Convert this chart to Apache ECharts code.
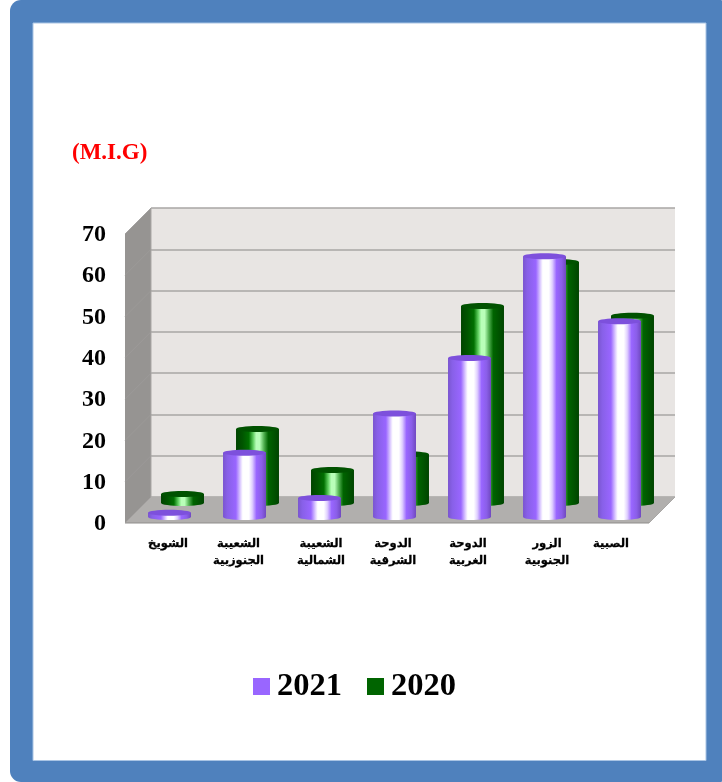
<!DOCTYPE html>
<html>
<head>
<meta charset="utf-8">
<style>html,body{margin:0;padding:0;background:#fff}#c{width:722px;height:782px}</style>
<script src="https://cdn.jsdelivr.net/npm/echarts@6/dist/echarts.min.js"></script>
</head>
<body>
<div id="c"></div>
<script>
const categories = ['الشويخ','الشعيبة\nالجنوزبية','الشعيبة\nالشمالية','الدوحة\nالشرقية','الدوحة\nالغربية','الزور\nالجنوبية','الصبية'];
const values2021 = [1, 15.5, 4.6, 25, 38.4, 63, 47.3];
const values2020 = [2.2, 17.9, 8, 11.8, 47.6, 58.2, 45.2];
const wallTicks = [0,10,20,30,40,50,60,70];
const serif = '"Liberation Serif","Times New Roman",serif';
const labelNudge = [-1.5,-6,1.5,-1.5,-1.5,2.5,-8.5];

const DEPTH = 26;
function grad(stops){
  return {type:'linear',x:0,y:0,x2:1,y2:0,colorStops:stops.map(s=>({offset:s[0],color:s[1]}))};
}
const purpleGrad = grad([[0,'#7a55cf'],[0.1,'#8860e8'],[0.3,'#9966ff'],[0.42,'#e8dcff'],[0.46,'#ffffff'],[0.6,'#ffffff'],[0.68,'#e0d0ff'],[0.78,'#9966ff'],[0.9,'#8a5ee8'],[1,'#7048c0']]);
const greenGrad = grad([[0,'#004400'],[0.15,'#005500'],[0.3,'#007000'],[0.4,'#60d060'],[0.47,'#b8ffb8'],[0.55,'#b8ffb8'],[0.65,'#50b050'],[0.75,'#006400'],[1,'#004400']]);

function cylinder(fill, topFill){
  return function(params, api){
    const top = api.coord([api.value(0), api.value(1)]);
    const base = api.coord([api.value(0), 0]);
    const w = api.size([1,0])[0] * 0.573;
    const rx = w/2, ry = 3;
    return {type:'group',children:[
      {type:'ellipse',shape:{cx:base[0],cy:base[1],rx:rx,ry:ry},style:{fill:fill}},
      {type:'rect',shape:{x:base[0]-rx,y:top[1],width:w,height:base[1]-top[1]},style:{fill:fill}},
      {type:'ellipse',shape:{cx:top[0],cy:top[1],rx:rx,ry:ry},style:{fill:topFill}}
    ]};
  };
}
function walls(params, api){
  const cs = params.coordSys;
  const l = cs.x, r = cs.x+cs.width, t = cs.y, b = cs.y+cs.height;
  const kids = [
    {type:'polygon',shape:{points:[[l,t],[l,b],[l-DEPTH,b+DEPTH],[l-DEPTH,t+DEPTH]]},style:{fill:'#969492'}},
    {type:'polygon',shape:{points:[[l,b],[r,b],[r-DEPTH,b+DEPTH],[l-DEPTH,b+DEPTH]]},style:{fill:'#b1afad'}},
    {type:'line',shape:{x1:l,y1:t,x2:l,y2:b},style:{stroke:'#a9a7a5',lineWidth:1}},
    {type:'line',shape:{x1:l-DEPTH,y1:b+DEPTH,x2:r-DEPTH,y2:b+DEPTH},style:{stroke:'#8f8d8b',lineWidth:1}},
    {type:'line',shape:{x1:r,y1:b,x2:r-DEPTH,y2:b+DEPTH},style:{stroke:'#a9a7a5',lineWidth:1}}
  ];
  wallTicks.forEach(v=>{
    const p = api.coord([0,v]);
    kids.push({type:'line',shape:{x1:l,y1:p[1],x2:l-DEPTH,y2:p[1]+DEPTH},style:{stroke:'#9d9b99',lineWidth:0.8}});
  });
  return {type:'group',children:kids};
}

const chart = echarts.init(document.getElementById('c'),null,{renderer:'canvas'});
chart.setOption({
  animation:false,
  backgroundColor:'#ffffff',
  graphic:[
    {type:'rect',z:-10,shape:{x:10,y:0,width:712,height:782,r:[11,1,1,11]},style:{fill:'#4f81bd'}},
    {type:'rect',z:-9,shape:{x:33,y:23,width:673,height:737.5},style:{fill:'#ffffff',stroke:'#a9c4e4',lineWidth:1}}
  ],
  title:{text:'(M.I.G)',left:72,top:142,padding:0,textStyle:{color:'#ff0000',fontFamily:serif,fontWeight:'bold',fontSize:23}},
  legend:{
    data:['2021','2020'],left:253,top:670,padding:0,icon:'rect',itemWidth:17,itemHeight:17,itemGap:25,selectedMode:false,
    textStyle:{fontFamily:serif,fontWeight:'bold',fontSize:32.5,color:'#000',padding:[0,0,0,2]}
  },
  grid:[
    {left:151,top:208,width:524,height:289,show:true,backgroundColor:'#e8e5e3',borderWidth:0},
    {left:145,top:213.2,width:525,height:289.8},
    {left:132,top:227.2,width:525,height:289.8},
    {left:125,top:235,width:525,height:289}
  ],
  xAxis:[0,1,2,3].map(i=>({
    gridIndex:i,type:'category',
    data:categories.map((c,k)=>({value:c,textStyle:{padding:labelNudge[k]<0?[0,-2*labelNudge[k],0,0]:[0,0,0,2*labelNudge[k]]}})),
    axisLine:{show:false},axisTick:{show:false},
    axisLabel:{show:i===2,interval:0,margin:19,lineHeight:17,fontFamily:'"DejaVu Sans",sans-serif',fontWeight:'bold',fontSize:11.5,color:'#000',textBorderColor:'#000',textBorderWidth:0.3}
  })),
  yAxis:[0,1,2,3].map(i=>({
    gridIndex:i,type:'value',min:0,max:70,interval:10,
    axisLine:{show:false},axisTick:{show:false},
    splitLine:{show:i===0,lineStyle:{color:'#a8a6a4',width:1.5}},
    axisLabel:{show:i===3,margin:19,fontFamily:serif,fontWeight:'bold',fontSize:24,color:'#000'}
  })),
  series:[
    {name:'walls',type:'custom',xAxisIndex:0,yAxisIndex:0,z:1,silent:true,data:[[0,0]],renderItem:walls},
    {name:'2020',type:'custom',xAxisIndex:1,yAxisIndex:1,z:2,itemStyle:{color:'#006400'},
      data:values2020.map((v,i)=>[i,v]),encode:{x:0,y:1},renderItem:cylinder(greenGrad,'#005200')},
    {name:'2021',type:'custom',xAxisIndex:2,yAxisIndex:2,z:3,itemStyle:{color:'#9966ff'},
      data:values2021.map((v,i)=>[i,v]),encode:{x:0,y:1},renderItem:cylinder(purpleGrad,'#7d50dc')}
  ]
});
</script>
</body>
</html>
